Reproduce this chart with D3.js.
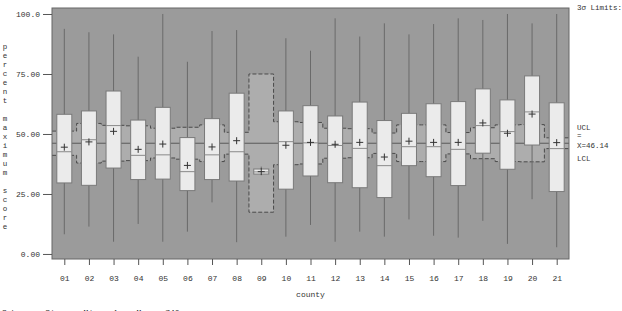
<!DOCTYPE html>
<html>
<head>
<meta charset="utf-8">
<script src="https://cdn.jsdelivr.net/npm/d3@7"></script>
<style>
  body { margin: 0; background: #ffffff; }
  svg { display: block; }
  text { font-family: "Liberation Mono", "DejaVu Sans Mono", monospace; fill: #333; }
</style>
</head>
<body>
<svg></svg>
<script>
// data
var counties = ['01','02','03','04','05','06','07','08','09','10','11','12','13','14','15','16','17','18','19','20','21']
var whiskerHigh = [93.8, 92.4, 91.5, 82.2, 100.0, 80.1, 92.9, 93.3, 36.4, 89.9, 84.7, 98.2, 90.6, 96.1, 91.5, 95.8, 98.2, 97.5, 100.0, 96.1, 100.0]
var q3 = [58.2, 59.6, 67.9, 55.8, 61.1, 48.5, 56.4, 67.0, 35.4, 59.6, 61.8, 57.5, 63.3, 55.6, 58.6, 62.6, 63.5, 68.8, 64.2, 74.2, 63.0]
var medians = [42.6, 47.6, 53.5, 41.1, 41.3, 34.3, 41.3, 42.6, 34.2, 46.8, 46.3, 45.2, 44.0, 36.8, 44.7, 44.7, 43.6, 53.5, 51.0, 59.2, 43.9]
var q1 = [29.6, 28.6, 35.8, 31.0, 31.2, 26.4, 31.0, 30.4, 33.3, 27.0, 32.5, 29.7, 27.6, 23.5, 36.8, 32.2, 28.5, 42.0, 35.3, 45.4, 26.0]
var whiskerLow = [8.2, 11.4, 5.1, 12.5, 5.1, 9.3, 21.5, 4.9, 33.3, 7.2, 12.1, 5.1, 9.3, 7.2, 14.4, 7.6, 6.8, 13.8, 4.2, 22.8, 2.8]
var means = [44.5, 46.7, 51.1, 43.6, 45.8, 36.9, 44.6, 47.2, 34.3, 45.3, 46.5, 45.7, 46.5, 40.4, 47.0, 46.5, 46.5, 54.6, 50.3, 58.3, 46.4]
var ucl = [51.2, 54.4, 53.6, 53.4, 52.4, 52.8, 53.8, 50.7, 75.0, 55.1, 54.8, 52.4, 52.2, 50.4, 53.8, 53.8, 50.6, 52.6, 53.8, 53.9, 48.4]
var lcl = [41.1, 37.9, 38.7, 38.9, 40.0, 39.5, 38.5, 41.6, 17.4, 37.2, 37.5, 39.9, 40.1, 41.9, 38.5, 38.5, 41.7, 39.7, 38.5, 38.4, 43.9]
var centerLine = 46.14
var yTicks = [0, 25, 50, 75, 100]
var yTickLabels = ['0.00', '25.00', '50.00', '75.00', '100.0']
var yLabel = 'percent maximum score'

var svgWidth = 622, svgHeight = 311
var plotLeft = 52, plotRight = 569, plotTop = 8, plotBottom = 259
var boxWidth = 15

var svg = d3.select('svg')
    .attr('width', svgWidth)
    .attr('height', svgHeight)

var x = d3.scalePoint()
    .domain(counties)
    .range([plotLeft, plotRight])
    .padding(0.5)
var step = x.step()

var y = d3.scaleLinear()
    .domain([-2.1, 102.5])
    .range([plotBottom, plotTop])

var rows = counties.map(function(c, i) {
    return {c: c, hi: whiskerHigh[i], q3: q3[i], med: medians[i], q1: q1[i],
            lo: whiskerLow[i], mean: means[i], ucl: ucl[i], lcl: lcl[i]}
})

// plot background
svg.append('rect')
    .attr('x', plotLeft).attr('y', plotTop)
    .attr('width', plotRight - plotLeft).attr('height', plotBottom - plotTop)
    .attr('fill', '#9b9b9b')

// control limit band, stepped
var stepPts = []
rows.forEach(function(d) {
    stepPts.push({x: x(d.c) - step / 2, u: d.ucl, l: d.lcl})
    stepPts.push({x: x(d.c) + step / 2, u: d.ucl, l: d.lcl})
})

svg.append('path')
    .datum(stepPts)
    .attr('fill', '#adadad')
    .attr('d', d3.area()
        .x(function(d) { return d.x })
        .y0(function(d) { return y(d.l) })
        .y1(function(d) { return y(d.u) }))

;['u', 'l'].forEach(function(k) {
    svg.append('path')
        .datum(stepPts)
        .attr('fill', 'none')
        .attr('stroke', '#4a4a4a')
        .attr('stroke-width', 1)
        .attr('stroke-dasharray', '4,2')
        .attr('d', d3.line()
            .x(function(d) { return d.x })
            .y(function(d) { return y(d[k]) }))
})

// center line
svg.append('line')
    .attr('x1', plotLeft).attr('x2', plotRight)
    .attr('y1', y(centerLine)).attr('y2', y(centerLine))
    .attr('stroke', '#5a5a5a')
    .attr('stroke-width', 1)

// whiskers + boxes
var g = svg.selectAll('.box')
    .data(rows)
    .enter()
    .append('g')
    .attr('class', 'box')

g.append('line')
    .attr('x1', function(d) { return x(d.c) })
    .attr('x2', function(d) { return x(d.c) })
    .attr('y1', function(d) { return y(d.hi) })
    .attr('y2', function(d) { return y(d.lo) })
    .attr('stroke', '#6a6a6a')
    .attr('stroke-width', 1)

g.append('rect')
    .attr('x', function(d) { return x(d.c) - boxWidth / 2 })
    .attr('y', function(d) { return y(d.q3) })
    .attr('width', boxWidth)
    .attr('height', function(d) { return y(d.q1) - y(d.q3) })
    .attr('fill', '#ebebeb')
    .attr('stroke', '#7a7a7a')
    .attr('stroke-width', 1)

g.append('line')
    .attr('x1', function(d) { return x(d.c) - boxWidth / 2 })
    .attr('x2', function(d) { return x(d.c) + boxWidth / 2 })
    .attr('y1', function(d) { return y(d.med) })
    .attr('y2', function(d) { return y(d.med) })
    .attr('stroke', '#8a8a8a')
    .attr('stroke-width', 1)

// mean markers (+)
g.append('path')
    .attr('d', function(d) {
        var cx = x(d.c), cy = y(d.mean)
        return 'M' + (cx - 3.5) + ',' + cy + 'H' + (cx + 3.5) + 'M' + cx + ',' + (cy - 3.5) + 'V' + (cy + 3.5)
    })
    .attr('stroke', '#333')
    .attr('stroke-width', 1)

// frame
svg.append('rect')
    .attr('x', plotLeft).attr('y', plotTop)
    .attr('width', plotRight - plotLeft).attr('height', plotBottom - plotTop)
    .attr('fill', 'none')
    .attr('stroke', '#666')
    .attr('stroke-width', 1)

// y axis
var yAxis = d3.axisLeft(y)
    .tickValues(yTicks)
    .tickSize(9)
    .tickPadding(3)
    .tickFormat(function(d, i) { return yTickLabels[i] })
svg.append('g')
    .attr('transform', 'translate(' + plotLeft + ',0)')
    .call(yAxis)
    .call(function(a) {
        a.select('.domain').remove()
        a.selectAll('line').attr('stroke', '#555')
        a.selectAll('text').style('font-size', '8px').attr('fill', '#444')
    })

// x axis
var xAxis = d3.axisBottom(x)
    .tickSize(6)
    .tickPadding(10)
svg.append('g')
    .attr('transform', 'translate(0,' + plotBottom + ')')
    .call(xAxis)
    .call(function(a) {
        a.select('.domain').remove()
        a.selectAll('line').attr('stroke', '#555')
        a.selectAll('text').style('font-size', '8px').attr('fill', '#444')
    })

svg.append('text')
    .attr('x', (plotLeft + plotRight) / 2)
    .attr('y', 297)
    .attr('text-anchor', 'middle')
    .style('font-size', '8px')
    .text('county')

// vertical stacked y label
svg.selectAll('.ylab')
    .data(yLabel.split(''))
    .enter()
    .append('text')
    .attr('class', 'ylab')
    .attr('x', 5)
    .attr('y', function(d, i) { return 49 + i * 9 })
    .attr('text-anchor', 'middle')
    .style('font-size', '7.5px')
    .text(function(d) { return d })

// limit labels on the right
var side = [['3\u03C3 Limits:', 10], ['UCL', 130], ['=', 138], ['X=' + centerLine.toFixed(2), 148], ['LCL', 161]]
svg.selectAll('.side')
    .data(side)
    .enter()
    .append('text')
    .attr('class', 'side')
    .attr('x', 577)
    .attr('y', function(d) { return d[1] })
    .style('font-size', '7.5px')
    .text(function(d) { return d[0] })

svg.append('text')
    .attr('x', 2)
    .attr('y', 315)
    .style('font-size', '8px')
    .attr('xml:space', 'preserve')
    .text('Subgroup Sizes:  Min n=4    Max n=740')
</script>
</body>
</html>
